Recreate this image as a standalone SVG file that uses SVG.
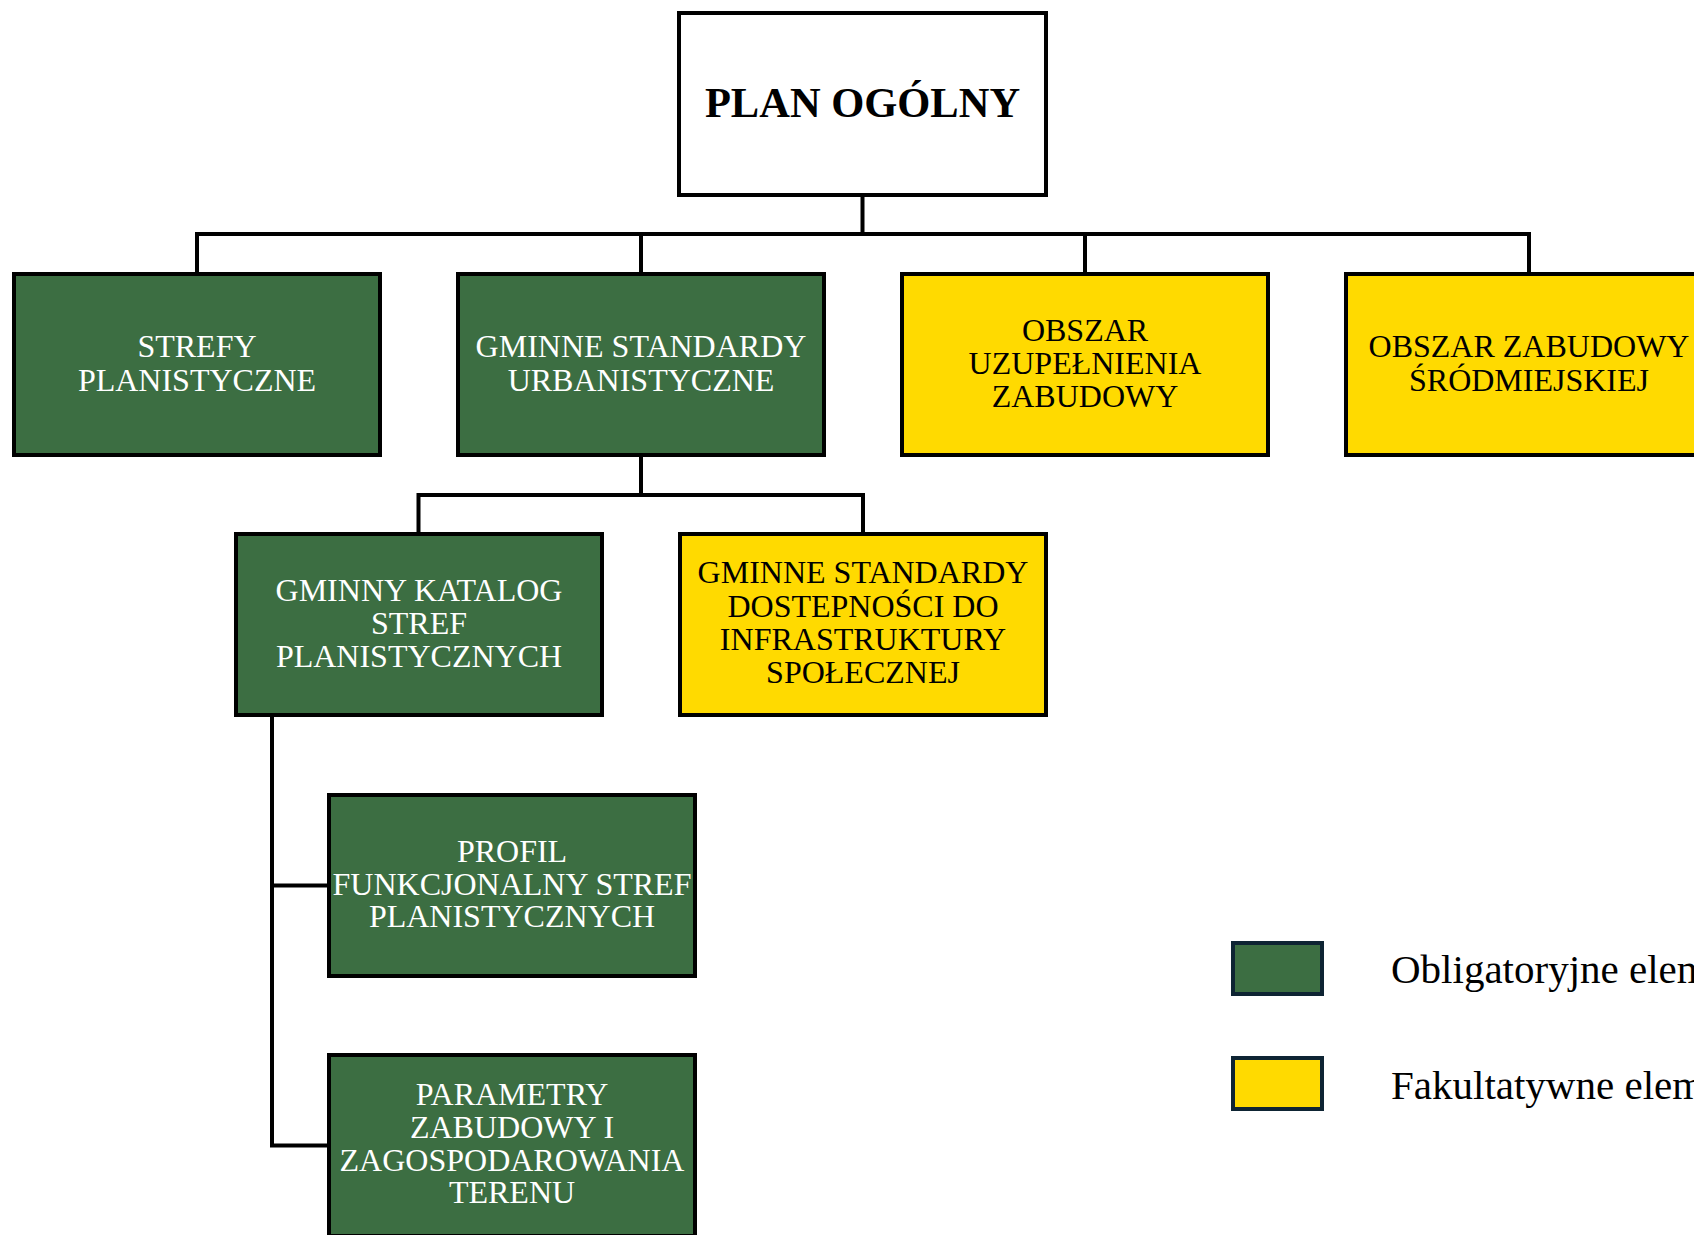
<svg xmlns="http://www.w3.org/2000/svg" width="1694" height="1235" viewBox="0 0 1694 1235">
<style>
.box{stroke:#000;stroke-width:4}
.g{fill:#3c6e42}
.y{fill:#ffda00}
.w{fill:#fff}
.t{font-family:"Liberation Serif","Times New Roman",serif;font-size:32px;text-anchor:middle}
.tw{fill:#fff}
.tb{fill:#000}
.conn{stroke:#000;stroke-width:4;fill:none;stroke-linecap:square}
.leg{stroke:#0e2433;stroke-width:4}
.lt{font-family:"Liberation Serif","Times New Roman",serif;font-size:41px;fill:#000}
</style>
<rect width="1694" height="1235" fill="#fff"/>
<g id="connectors">
<path class="conn" d="M862.5,197V234M197,234H1529M197,234V272M641,234V272M1085,234V272M1529,234V272"/>
<path class="conn" d="M641,457V495M418.5,495H863M418.5,495V532M863,495V532"/>
<path class="conn" d="M272,718V1145.5H327M272,885.5H327"/>
</g>
<g id="plan-ogolny">
<rect class="box w" x="679" y="13" width="367" height="182"/>
<text x="862.5" y="117" style="font-family:'Liberation Serif','Times New Roman',serif;font-size:42.5px;font-weight:bold;text-anchor:middle">PLAN OGÓLNY</text>
</g>
<g id="strefy-planistyczne">
<rect class="box g" x="14" y="274" width="366" height="181"/>
<text class="t tw"><tspan x="197" y="357">STREFY</tspan><tspan x="197" y="391">PLANISTYCZNE</tspan></text>
</g>
<g id="gminne-standardy-urbanistyczne">
<rect class="box g" x="458" y="274" width="366" height="181"/>
<text class="t tw"><tspan x="641" y="357">GMINNE STANDARDY</tspan><tspan x="641" y="391">URBANISTYCZNE</tspan></text>
</g>
<g id="obszar-uzupelnienia">
<rect class="box y" x="902" y="274" width="366" height="181"/>
<text class="t tb"><tspan x="1085" y="341">OBSZAR</tspan><tspan x="1085" y="374">UZUPEŁNIENIA</tspan><tspan x="1085" y="407">ZABUDOWY</tspan></text>
</g>
<g id="obszar-srodmiejskiej">
<rect class="box y" x="1346" y="274" width="366" height="181"/>
<text class="t tb"><tspan x="1529" y="357">OBSZAR ZABUDOWY</tspan><tspan x="1529" y="391">ŚRÓDMIEJSKIEJ</tspan></text>
</g>
<g id="gminny-katalog">
<rect class="box g" x="236" y="534" width="366" height="181"/>
<text class="t tw"><tspan x="419" y="601">GMINNY KATALOG</tspan><tspan x="419" y="634">STREF</tspan><tspan x="419" y="667">PLANISTYCZNYCH</tspan></text>
</g>
<g id="gminne-standardy-dostepnosci">
<rect class="box y" x="680" y="534" width="366" height="181"/>
<text class="t tb"><tspan x="863" y="583">GMINNE STANDARDY</tspan><tspan x="863" y="617">DOSTEPNOŚCI DO</tspan><tspan x="863" y="650">INFRASTRUKTURY</tspan><tspan x="863" y="683">SPOŁECZNEJ</tspan></text>
</g>
<g id="profil-funkcjonalny">
<rect class="box g" x="329" y="795" width="366" height="181"/>
<text class="t tw"><tspan x="512" y="862">PROFIL</tspan><tspan x="512" y="895">FUNKCJONALNY STREF</tspan><tspan x="512" y="927">PLANISTYCZNYCH</tspan></text>
</g>
<g id="parametry-zabudowy">
<rect class="box g" x="329" y="1055" width="366" height="181"/>
<text class="t tw"><tspan x="512" y="1105">PARAMETRY</tspan><tspan x="512" y="1138">ZABUDOWY I</tspan><tspan x="512" y="1171">ZAGOSPODAROWANIA</tspan><tspan x="512" y="1203">TERENU</tspan></text>
</g>
<g id="legend">
<rect class="leg g" x="1233" y="943" width="89" height="51"/>
<text class="lt" x="1391" y="983">Obligatoryjne elementy</text>
<rect class="leg y" x="1233" y="1058" width="89" height="51"/>
<text class="lt" x="1391" y="1099">Fakultatywne elementy</text>
</g>
</svg>
